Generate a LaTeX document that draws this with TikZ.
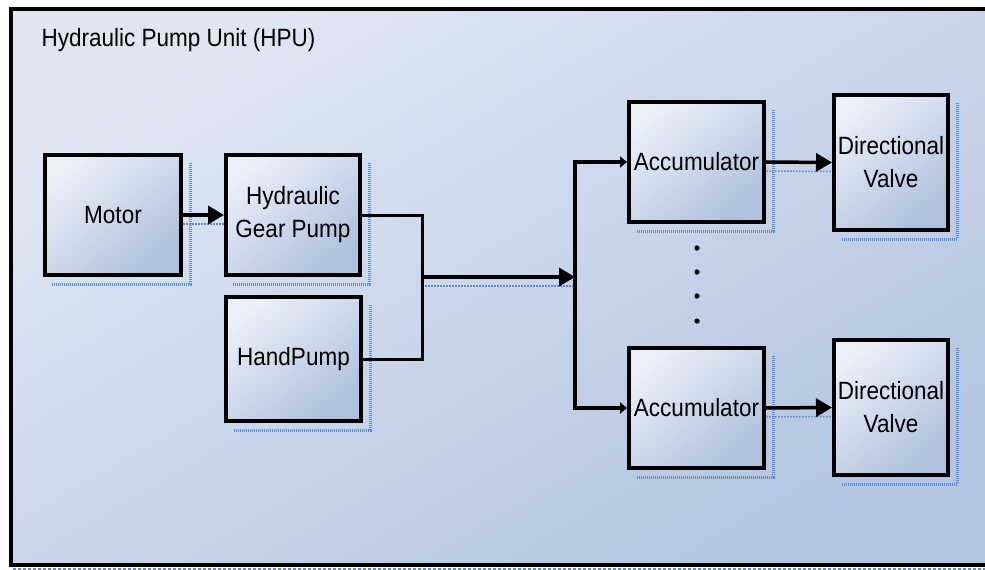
\documentclass[tikz,border=0pt]{standalone}
\usepackage{fontspec}
\setmainfont{Liberation Sans}[FakeStretch=0.9]
\usetikzlibrary{arrows.meta}
\definecolor{bgA}{HTML}{E0E7F3}
\definecolor{bgB}{HTML}{B3C5E0}
\definecolor{boxA}{HTML}{EAEFF8}
\definecolor{boxB}{HTML}{AFC1DD}
\definecolor{shadowblue}{HTML}{5F8BD6}
\pgfdeclarelayer{back}
\pgfdeclarelayer{shadowlayer}
\pgfsetlayers{back,shadowlayer,main}
\tikzset{
  blk/.style={draw=black, line width=4pt, top color=boxA, bottom color=boxB, shading angle=40,
    align=center, font=\fontsize{25}{33}\selectfont, inner sep=0pt},
  shad/.style={draw=shadowblue, line width=3pt, dash pattern=on 1pt off 1pt},
  shadline/.style={draw=shadowblue, line width=1.5pt, dash pattern=on 1.5pt off 1.5pt},
  conn/.style={line width=3.5pt},
  bigarrow/.style={conn, -{Triangle[length=16pt,width=18pt]}},
  smallarrow/.style={conn, -{Triangle[length=7pt,width=11pt]}},
  link/.style={line width=3pt}
}
\begin{document}
\begin{tikzpicture}[x=1pt,y=-1pt]
\useasboundingbox (0,0) rectangle (985,570);
\clip (0,0) rectangle (985,570);
\begin{pgfonlayer}{back}
\fill[white] (0,0) rectangle (985,570);
\shade[top color=bgA, bottom color=bgB, shading angle=30] (11,9) rectangle (1000,565);
\draw[shadowblue, line width=2pt, dash pattern=on 3pt off 2pt] (13,569) -- (985,569);
\draw[line width=4pt] (1000,9) -- (11,9) -- (11,565) -- (1000,565);
\end{pgfonlayer}

\node[anchor=west, font=\fontsize{25}{30}\selectfont] (title) at (38,40) {Hydraulic Pump Unit (HPU)};

\node[blk, minimum width=136pt, minimum height=120pt] (motor) at (113,215) {Motor};
\node[blk, minimum width=134pt, minimum height=120pt] (gear) at (293,215) {Hydraulic\\Gear Pump};
\node[blk, minimum width=135pt, minimum height=124pt] (hand) at (293.5,359) {HandPump};
\node[blk, minimum width=135pt, minimum height=120pt] (acc1) at (696.5,162) {Accumulator};
\node[blk, minimum width=135pt, minimum height=120pt] (acc2) at (696.5,408) {Accumulator};
\node[blk, minimum width=114pt, minimum height=135pt] (val1) at (891,162.5) {Directional\\Valve};
\node[blk, minimum width=114pt, minimum height=135pt] (val2) at (891,407.5) {Directional\\Valve};

\begin{pgfonlayer}{shadowlayer}
\foreach \n in {motor,gear,hand,acc1,acc2,val1,val2}{
  \draw[shad] ([xshift=7pt,yshift=-10pt]\n.north east) |- ([xshift=9pt,yshift=-7pt]\n.south west);
}
\draw[shadline] ([yshift=-9pt]motor.east) -- ([yshift=-9pt]gear.west);
\draw[shadline] ([yshift=-9pt]acc1.east) -- ([yshift=-9pt]val1.west);
\draw[shadline] ([yshift=-9pt]acc2.east) -- ([yshift=-9pt]val2.west);
\end{pgfonlayer}

\coordinate (join) at (422,277);
\coordinate (split) at (575,277);

\draw[bigarrow] (motor.east) -- (gear.west);
\draw[link] (gear.east) -| (join) |- (hand.east);
\begin{pgfonlayer}{shadowlayer}
\draw[shadline] ([yshift=-9pt]join) -- ([yshift=-9pt]split);
\end{pgfonlayer}
\draw[bigarrow] (join) -- (split);
\draw[smallarrow] (split) |- (acc1.west);
\draw[smallarrow] (split) |- (acc2.west);
\draw[bigarrow] (acc1.east) -- (val1.west);
\draw[bigarrow] (acc2.east) -- (val2.west);

\foreach \yy in {248,272,296,321}{
  \fill (697,\yy) circle[radius=2.6pt];
}
\end{tikzpicture}
\end{document}
